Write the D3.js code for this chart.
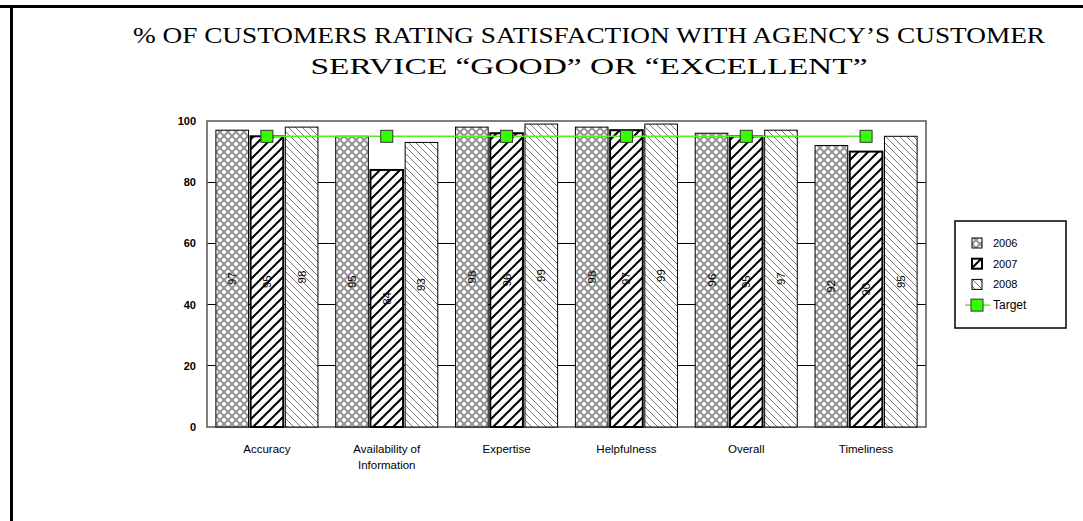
<!DOCTYPE html>
<html><head><meta charset="utf-8">
<script src="https://cdn.jsdelivr.net/npm/d3@7"></script>
<style>body{margin:0;background:#fff} svg{display:block}</style>
</head><body><svg id="c" width="1083" height="521"></svg>
<script>
// ---- data ----
const categories = ["Accuracy", "Availability of Information", "Expertise", "Helpfulness", "Overall", "Timeliness"];
const categoryLines = [["Accuracy"], ["Availability of", "Information"], ["Expertise"], ["Helpfulness"], ["Overall"], ["Timeliness"]];
const years = ["2006", "2007", "2008"];
const values2006 = [97, 95, 98, 98, 96, 92];
const values2007 = [95, 84, 96, 97, 95, 90];
const values2008 = [98, 93, 99, 99, 97, 95];
const targetValues = [95, 95, 95, 95, 95, 95];
const yTicks = [0, 20, 40, 60, 80, 100];
const titleLines = ["% OF CUSTOMERS RATING SATISFACTION WITH  AGENCY\u2019S CUSTOMER", "SERVICE \u201CGOOD\u201D OR \u201CEXCELLENT\u201D"];

const seriesValues = { "2006": values2006, "2007": values2007, "2008": values2008 };

const svg = d3.select("#c");
const defs = svg.append("defs");

// patterns
const p6 = defs.append("pattern").attr("id", "p2006").attr("patternUnits", "userSpaceOnUse").attr("width", 8).attr("height", 8);
p6.append("rect").attr("width", 8).attr("height", 8).attr("fill", "#fff");
p6.append("path").attr("d", "M-1,-1L9,9M-1,9L9,-1").attr("stroke", "#949494").attr("stroke-width", 2);
const p7 = defs.append("pattern").attr("id", "p2007").attr("patternUnits", "userSpaceOnUse").attr("width", 10).attr("height", 10);
p7.append("rect").attr("width", 10).attr("height", 10).attr("fill", "#fff");
p7.append("path").attr("d", "M-2,12L12,-2M-2,2L2,-2M8,12L12,8").attr("stroke", "#000").attr("stroke-width", 2);
const p8 = defs.append("pattern").attr("id", "p2008").attr("patternUnits", "userSpaceOnUse").attr("width", 7).attr("height", 7);
p8.append("rect").attr("width", 7).attr("height", 7).attr("fill", "#fff");
p8.append("path").attr("d", "M-1,-1L8,8M-1,6L1,8M6,-1L8,1").attr("stroke", "#777").attr("stroke-width", 1);
const fills = { "2006": "url(#p2006)", "2007": "url(#p2007)", "2008": "url(#p2008)" };
const strokeW = { "2006": 1, "2007": 2, "2008": 1 };

// page border
svg.append("line").attr("x1", 0).attr("x2", 1083).attr("y1", 6.5).attr("y2", 6.5).attr("stroke", "#000").attr("stroke-width", 3);
svg.append("line").attr("x1", 11.5).attr("x2", 11.5).attr("y1", 5).attr("y2", 521).attr("stroke", "#000").attr("stroke-width", 3);

// title
svg.append("g").selectAll("text").data(titleLines).join("text")
  .attr("x", 589).attr("y", (d, i) => 42.5 + i * 31.5)
  .attr("text-anchor", "middle")
  .attr("font-family", "'Liberation Serif','Times New Roman',serif")
  .attr("font-size", 23.5)
  .attr("textLength", (d, i) => i === 0 ? 912 : 557)
  .attr("lengthAdjust", "spacingAndGlyphs")
  .text(d => d);

// scales
const x = d3.scaleBand().domain(categories).range([207, 926]);
const x1 = d3.scaleBand().domain(years).range([0, x.bandwidth()]).paddingInner(0.06).paddingOuter(0.256);
const y = d3.scaleLinear().domain([0, 100]).range([427, 121]);

// gridlines
svg.append("g").selectAll("line").data(yTicks.filter(t => t > 0 && t < 100)).join("line")
  .attr("x1", 207).attr("x2", 926).attr("y1", d => y(d)).attr("y2", d => y(d))
  .attr("stroke", "#000").attr("stroke-width", 1).attr("shape-rendering", "crispEdges");

// plot frame
svg.append("rect").attr("x", 207).attr("y", y(100)).attr("width", 926 - 207).attr("height", y(0) - y(100))
  .attr("fill", "none").attr("stroke", "#555").attr("stroke-width", 1.5);

// bars
const barData = [];
categories.forEach((c, i) => years.forEach(yr => barData.push({ c, yr, v: seriesValues[yr][i] })));
svg.append("g").selectAll("rect").data(barData).join("rect")
  .attr("x", d => x(d.c) + x1(d.yr))
  .attr("y", d => y(d.v))
  .attr("width", x1.bandwidth())
  .attr("height", d => y(0) - y(d.v))
  .attr("fill", d => fills[d.yr])
  .attr("stroke", "#000")
  .attr("stroke-width", d => strokeW[d.yr]);

// value labels
svg.append("g").selectAll("text").data(barData).join("text")
  .attr("transform", d => `translate(${x(d.c) + x1(d.yr) + x1.bandwidth() / 2},${y(d.v / 2)}) rotate(-90)`)
  .attr("text-anchor", "middle").attr("dominant-baseline", "central")
  .attr("font-family", "Arial, 'Liberation Sans', sans-serif").attr("font-size", 11.5)
  .attr("fill", "#000")
  .text(d => d.v);

// target line
const line = d3.line().x((d, i) => x(categories[i]) + x.bandwidth() / 2).y(d => y(d));
svg.append("path").attr("d", line(targetValues)).attr("fill", "none").attr("stroke", "#55ee22").attr("stroke-width", 1.5);
svg.append("g").selectAll("rect").data(targetValues).join("rect")
  .attr("x", (d, i) => x(categories[i]) + x.bandwidth() / 2 - 6)
  .attr("y", d => y(d) - 6).attr("width", 12).attr("height", 12)
  .attr("fill", "#33ff00").attr("stroke", "#333").attr("stroke-width", 1);

// y axis labels
svg.append("g").selectAll("text").data(yTicks).join("text")
  .attr("x", 196).attr("y", d => y(d)).attr("text-anchor", "end").attr("dominant-baseline", "central")
  .attr("font-family", "Arial, 'Liberation Sans', sans-serif").attr("font-size", 11).attr("font-weight", "bold")
  .text(d => d);

// x axis labels
const xl = svg.append("g").selectAll("text").data(categories).join("text")
  .attr("x", d => x(d) + x.bandwidth() / 2).attr("y", 453)
  .attr("text-anchor", "middle")
  .attr("font-family", "Arial, 'Liberation Sans', sans-serif").attr("font-size", 11.5);
xl.selectAll("tspan").data((d, i) => categoryLines[i]).join("tspan")
  .attr("x", function () { return d3.select(this.parentNode).attr("x"); })
  .attr("dy", (d, i) => i === 0 ? 0 : 16)
  .text(d => d);

// legend
const lg = svg.append("g");
lg.append("rect").attr("x", 955).attr("y", 221).attr("width", 111).attr("height", 107)
  .attr("fill", "#fff").attr("stroke", "#000").attr("stroke-width", 1.5);
const legendItems = years.concat(["Target"]);
legendItems.forEach((k, i) => {
  const cy = 243 + i * 20.7;
  if (k === "Target") {
    lg.append("line").attr("x1", 965).attr("x2", 990).attr("y1", cy).attr("y2", cy).attr("stroke", "#55ee22").attr("stroke-width", 1.5);
    lg.append("rect").attr("x", 971).attr("y", cy - 6).attr("width", 12).attr("height", 12).attr("fill", "#33ff00").attr("stroke", "#333");
  } else {
    lg.append("rect").attr("x", 972).attr("y", cy - 5).attr("width", 10).attr("height", 10)
      .attr("fill", fills[k]).attr("stroke", "#000").attr("stroke-width", strokeW[k]);
  }
  lg.append("text").attr("x", 993).attr("y", cy).attr("dominant-baseline", "central")
    .attr("font-family", "Arial, 'Liberation Sans', sans-serif").attr("font-size", k === "Target" ? 12 : 11)
    .text(k);
});
</script></body></html>
